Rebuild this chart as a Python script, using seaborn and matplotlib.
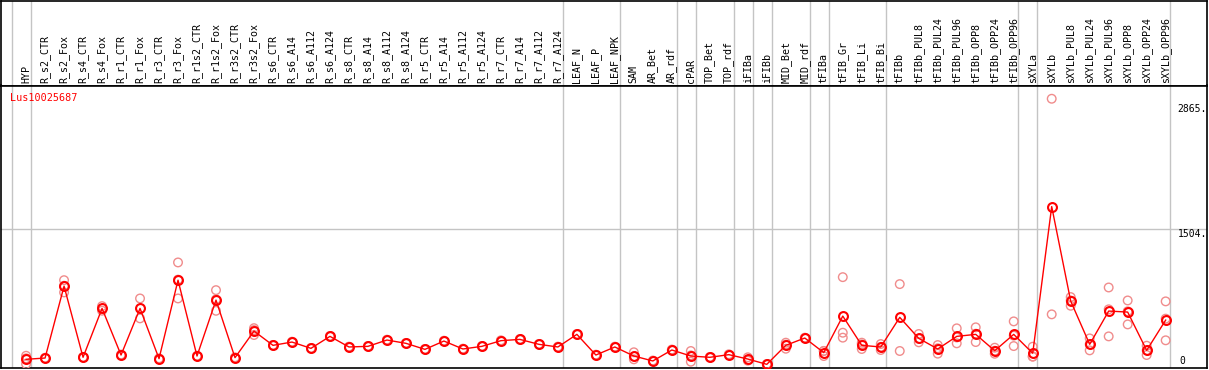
import numpy as np
import pandas as pd
import matplotlib
matplotlib.use("Agg")
import matplotlib.pyplot as plt
import seaborn as sns

# ====================================================
# DATA
# ====================================================

samples = [
    "HYP", "R_s2_CTR", "R_s2_Fox", "R_s4_CTR", "R_s4_Fox", "R_r1_CTR",
    "R_r1_Fox", "R_r3_CTR", "R_r3_Fox", "R_r1s2_CTR", "R_r1s2_Fox",
    "R_r3s2_CTR", "R_r3s2_Fox", "R_s6_CTR", "R_s6_A14", "R_s6_A112",
    "R_s6_A124", "R_s8_CTR", "R_s8_A14", "R_s8_A112", "R_s8_A124",
    "R_r5_CTR", "R_r5_A14", "R_r5_A112", "R_r5_A124", "R_r7_CTR",
    "R_r7_A14", "R_r7_A112", "R_r7_A124", "LEAF_N", "LEAF_P", "LEAF_NPK",
    "SAM", "AR_Bet", "AR_rdf", "cPAR", "TOP_Bet", "TOP_rdf", "iFIBa",
    "iFIBb", "MID_Bet", "MID_rdf", "tFIBa", "tFIB_Gr", "tFIB_Li",
    "tFIB_Bi", "tFIBb", "tFIBb_PUL8", "tFIBb_PUL24", "tFIBb_PUL96",
    "tFIBb_OPP8", "tFIBb_OPP24", "tFIBb_OPP96", "sXYLa", "sXYLb",
    "sXYLb_PUL8", "sXYLb_PUL24", "sXYLb_PUL96", "sXYLb_OPP8",
    "sXYLb_OPP24", "sXYLb_OPP96",
]

# tissue group of each sample (separator lines go between groups)
groups = (
    ["HYP"] + ["ROOT"] * 28 + ["LEAF"] * 3 + ["APEX"] * 3 + ["cPAR"]
    + ["TOP"] * 2 + ["iFIBa"] + ["iFIBb"] + ["MID"] * 2 + ["tFIBa"]
    + ["tFIB_x"] * 3 + ["tFIBb"] * 7 + ["sXYLa"] + ["sXYLb"] * 7
)

means = [
    73, 87, 874, 95, 630, 120, 630, 80, 939, 109, 721, 91, 382, 226, 262,
    193, 324, 208, 215, 284, 248, 182, 273, 186, 215, 277, 291, 237, 208,
    346, 120, 208, 109, 55, 175, 109, 95, 124, 76, 18, 226, 306, 146, 546,
    226, 208, 532, 302, 186, 324, 346, 167, 346, 139, 1744, 710, 237, 601,
    590, 171, 502,
]

replicates = [
    [84, 22, 112], [90, 84], [939, 805, 878], [98, 92], [655, 605],
    [125, 115], [739, 521], [84, 76], [1133, 739, 945], [112, 106],
    [830, 604, 729], [95, 87], [393, 339, 414], [230, 222], [266, 258],
    [197, 189], [328, 320], [212, 204], [219, 211], [288, 280], [252, 244],
    [186, 178], [277, 269], [190, 182], [219, 211], [281, 273], [295, 287],
    [241, 233], [212, 204], [350, 342], [124, 116], [212, 204],
    [150, 73, 104], [60, 50], [180, 170], [164, 47, 116], [99, 91],
    [128, 120], [95, 58], [22, 14], [255, 189, 234], [310, 302],
    [164, 109, 165], [972, 364, 310], [255, 186, 237], [240, 175, 209],
    [896, 164], [350, 259, 297], [229, 135, 194], [412, 248, 312],
    [423, 262, 353], [200, 167, 134], [488, 218, 332], [211, 102, 104],
    [2924, 565], [754, 659, 717], [302, 171, 238], [859, 324, 620],
    [717, 455, 598], [222, 120, 171], [707, 281, 518],
]

gene = "Lus10025687"
tick_values = [0, 1504, 2865]
tick_labels = ["0", "1504.", "2865."]

# ====================================================
# LONG FORMAT TABLES
# ====================================================

idx = np.arange(len(samples))
mean_df = pd.DataFrame({"pos": idx, "value": means})
rep_df = pd.DataFrame(
    [(i, v) for i, reps in enumerate(replicates) for v in reps],
    columns=["pos", "value"],
)

# ====================================================
# FIGURE
# ====================================================

W, H = 1209, 370
fig = plt.figure(figsize=(W / 100, H / 100), dpi=100)

left = 1 / W
width = 1205.5 / W
head_h = 85 / H
bottom = 2 / H
hx = fig.add_axes([left, 1 - head_h - 0.5 / H, width, head_h])
ax = fig.add_axes([left, bottom, width, 1 - head_h - bottom - 0.5 / H], sharex=hx)

mono = "DejaVu Sans Mono"
grey = "#c4c4c4"

# replicate circles
sns.scatterplot(
    data=rep_df, x="pos", y="value", ax=ax,
    marker="o", s=38, color="none", edgecolor="#f08c8c",
    linewidth=1.0, legend=False, zorder=3,
)

# mean line
sns.lineplot(
    data=mean_df, x="pos", y="value", ax=ax,
    color="red", linewidth=1.0, marker="o", markersize=6.4,
    markerfacecolor="none", markeredgecolor="red", markeredgewidth=1.5,
    zorder=4,
)

# group separators
group_ends = [i for i in range(len(groups) - 1) if groups[i] != groups[i + 1]]
separators = [-1] + group_ends + [len(groups) - 1]
for s in separators:
    for a in (ax, hx):
        a.axvline(s + 0.25, color=grey, linewidth=1.0, zorder=1)

ax.axhline(tick_values[1], color=grey, linewidth=1.0, zorder=1)

ax.set_xlim(-1.32, 62.15)
ax.set_ylim(-22, 3069)

# value labels on the right
label_x = 60.62
ax.text(label_x, tick_values[2], tick_labels[2], family=mono, fontsize=7,
        va="top", ha="left")
ax.text(label_x, tick_values[1], tick_labels[1], family=mono, fontsize=7,
        va="top", ha="left")
ax.text(label_x + 0.1, tick_values[0], tick_labels[0], family=mono,
        fontsize=7, va="bottom", ha="left")

ax.text(0.0075, 0.972, gene, transform=ax.transAxes, color="red",
        family=mono, fontsize=7.3, va="top", ha="left")

# sample labels in the header
for i, name in enumerate(samples):
    hx.text(i, 0.03, name, rotation=90, ha="center", va="bottom",
            family=mono, fontsize=7.2)

for a in (ax, hx):
    a.set_xticks([])
    a.set_yticks([])
    a.set_xlabel("")
    a.set_ylabel("")
    for sp in a.spines.values():
        sp.set_color("black")
        sp.set_linewidth(1.2)
hx.set_ylim(0, 1)

fig.savefig("out.png", dpi=100)
